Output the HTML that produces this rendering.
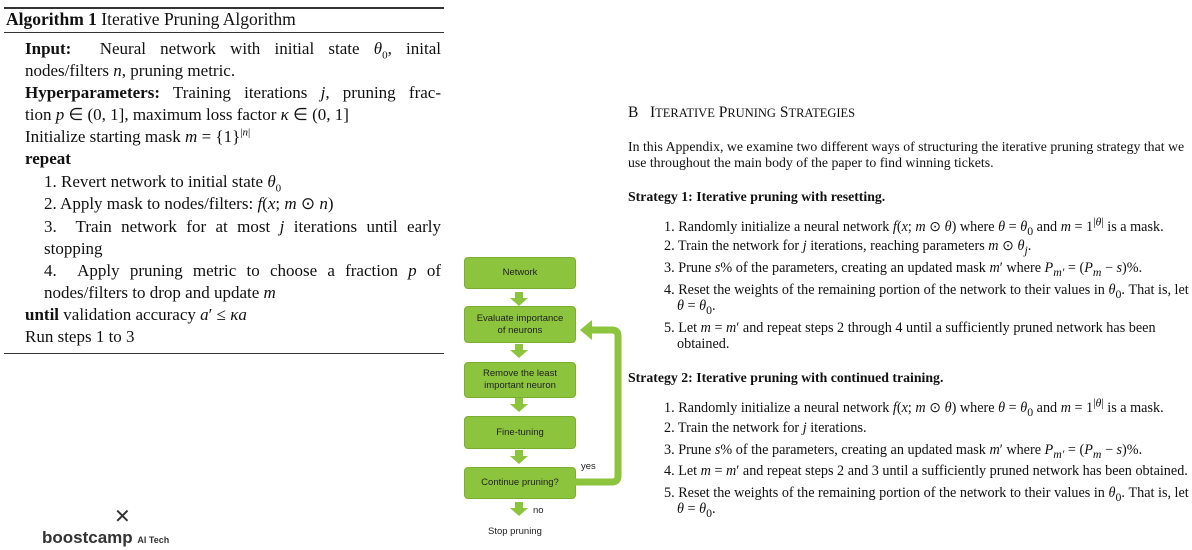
<!DOCTYPE html>
<html><head><meta charset="utf-8"><style>
body{margin:0;width:1192px;height:541px;background:#fff;position:relative;overflow:hidden;font-family:"Liberation Serif",serif;color:#111}
.a{position:absolute;white-space:nowrap}
.l{font-size:17px;line-height:22px}
.r{font-size:13.8px;line-height:16px}
.q{font-size:14.2px;line-height:16px}
sub,sup{line-height:0}
.box{position:absolute;left:464px;width:110px;background:#8cc43e;border:1px solid #7aae33;border-radius:4px;font-family:"Liberation Sans",sans-serif;font-size:9.5px;color:#222;display:flex;align-items:center;justify-content:center;text-align:center;line-height:12px}
.fl{font-family:"Liberation Sans",sans-serif;font-size:9.5px;color:#222}
i{font-style:italic}
</style></head><body>
<div class="a" style="left:4px;top:7px;width:440px;border-top:2px solid #333"></div>
<div class="a l" style="left:6px;top:8px;font-size:17.5px"><b>Algorithm 1</b> Iterative Pruning Algorithm</div>
<div class="a" style="left:4px;top:32px;width:440px;border-top:1px solid #333"></div>
<div class="a l" style="left:25px;top:38px;width:416px;text-align:justify;text-align-last:justify"><b>Input:</b> &nbsp;Neural network with initial state <i>θ</i><sub style="font-size:11px">0</sub>, inital</div>
<div class="a l" style="left:25px;top:60px">nodes/filters <i>n</i>, pruning metric.</div>
<div class="a l" style="left:25px;top:82px;width:416px;text-align:justify;text-align-last:justify"><b>Hyperparameters:</b> Training iterations <i>j</i>, pruning frac-</div>
<div class="a l" style="left:25px;top:104px">tion <i>p</i> ∈ (0, 1], maximum loss factor <i>κ</i> ∈ (0, 1]</div>
<div class="a l" style="left:25px;top:126px">Initialize starting mask <i>m</i> = {1}<sup style="font-size:11px">|<i>n</i>|</sup></div>
<div class="a l" style="left:25px;top:148px"><b>repeat</b></div>
<div class="a l" style="left:44px;top:171px">1. Revert network to initial state <i>θ</i><sub style="font-size:11px">0</sub></div>
<div class="a l" style="left:44px;top:193px">2. Apply mask to nodes/filters: <i>f</i>(<i>x</i>; <i>m</i> ⊙ <i>n</i>)</div>
<div class="a l" style="left:44px;top:216px;width:397px;text-align:justify;text-align-last:justify">3. &nbsp;Train network for at most <i>j</i> iterations until early</div>
<div class="a l" style="left:44px;top:238px">stopping</div>
<div class="a l" style="left:44px;top:260px;width:397px;text-align:justify;text-align-last:justify">4. &nbsp;Apply pruning metric to choose a fraction <i>p</i> of</div>
<div class="a l" style="left:44px;top:282px">nodes/filters to drop and update <i>m</i></div>
<div class="a l" style="left:25px;top:304px"><b>until</b> validation accuracy <i>a</i>′ ≤ <i>κa</i></div>
<div class="a l" style="left:25px;top:326px">Run steps 1 to 3</div>
<div class="a" style="left:4px;top:353px;width:440px;border-top:1px solid #333"></div>

<div class="a" style="left:114px;top:507px;font-family:'Liberation Sans',sans-serif;font-size:20px;color:#333;line-height:20px">✕</div>
<div class="a" style="left:42px;top:528px;font-family:'Liberation Sans',sans-serif;font-size:17px;font-weight:bold;color:#333;line-height:20px">boostcamp <span style="font-size:9px">AI Tech</span></div>

<div class="box" style="top:257px;height:30px">Network</div>
<div class="box" style="top:306px;height:35px">Evaluate importance<br>of neurons</div>
<div class="box" style="top:362px;height:34px">Remove the least<br>important neuron</div>
<div class="box" style="top:416px;height:31px">Fine-tuning</div>
<div class="box" style="top:467px;height:30px">Continue pruning?</div>
<svg class="a" style="left:450px;top:250px" width="180" height="280">
<g fill="#8cc43e">
<path d="M65 42h8v6h5l-9 8-9-8h5z"/>
<path d="M65 94h8v6h5l-9 8-9-8h5z"/>
<path d="M65 148h8v6h5l-9 8-9-8h5z"/>
<path d="M65 200h8v6h5l-9 8-9-8h5z"/>
<path d="M65 252h8v6h5l-9 8-9-8h5z"/>
</g>
<path d="M125 232 H162 Q168 232 168 226 V86 Q168 80 162 80 H140" fill="none" stroke="#8cc43e" stroke-width="7"/>
<path d="M130 80 L142 70 L142 90 Z" fill="#8cc43e"/>
</svg>
<div class="a fl" style="left:581px;top:461px">yes</div>
<div class="a fl" style="left:533px;top:505px">no</div>
<div class="a fl" style="left:488px;top:526px">Stop pruning</div>

<div class="a" style="left:628px;top:104px;font-size:15.5px;line-height:18px">B &nbsp;&nbsp;I<span style="font-size:12.5px">TERATIVE</span> P<span style="font-size:12.5px">RUNING</span> S<span style="font-size:12.5px">TRATEGIES</span></div>
<div class="a r" style="left:628px;top:139px">In this Appendix, we examine two different ways of structuring the iterative pruning strategy that we</div>
<div class="a r" style="left:628px;top:155px">use throughout the main body of the paper to find winning tickets.</div>
<div class="a r" style="left:628px;top:189px"><b>Strategy 1: Iterative pruning with resetting.</b></div>
<div class="a q" style="left:664px;top:219px">1. Randomly initialize a neural network <i>f</i>(<i>x</i>; <i>m</i> ⊙ <i>θ</i>) where <i>θ</i> = <i>θ</i><sub>0</sub> and <i>m</i> = 1<sup>|<i>θ</i>|</sup> is a mask.</div>
<div class="a q" style="left:664px;top:238px">2. Train the network for <i>j</i> iterations, reaching parameters <i>m</i> ⊙ <i>θ<sub>j</sub></i>.</div>
<div class="a q" style="left:664px;top:260px">3. Prune <i>s</i>% of the parameters, creating an updated mask <i>m</i>′ where <i>P<sub>m′</sub></i> = (<i>P<sub>m</sub></i> − <i>s</i>)%.</div>
<div class="a q" style="left:664px;top:282px">4. Reset the weights of the remaining portion of the network to their values in <i>θ</i><sub>0</sub>. That is, let</div>
<div class="a q" style="left:677px;top:298px"><i>θ</i> = <i>θ</i><sub>0</sub>.</div>
<div class="a q" style="left:664px;top:320px">5. Let <i>m</i> = <i>m</i>′ and repeat steps 2 through 4 until a sufficiently pruned network has been</div>
<div class="a q" style="left:677px;top:336px">obtained.</div>
<div class="a r" style="left:628px;top:370px"><b>Strategy 2: Iterative pruning with continued training.</b></div>
<div class="a q" style="left:664px;top:400px">1. Randomly initialize a neural network <i>f</i>(<i>x</i>; <i>m</i> ⊙ <i>θ</i>) where <i>θ</i> = <i>θ</i><sub>0</sub> and <i>m</i> = 1<sup>|<i>θ</i>|</sup> is a mask.</div>
<div class="a q" style="left:664px;top:420px">2. Train the network for <i>j</i> iterations.</div>
<div class="a q" style="left:664px;top:442px">3. Prune <i>s</i>% of the parameters, creating an updated mask <i>m</i>′ where <i>P<sub>m′</sub></i> = (<i>P<sub>m</sub></i> − <i>s</i>)%.</div>
<div class="a q" style="left:664px;top:463px">4. Let <i>m</i> = <i>m</i>′ and repeat steps 2 and 3 until a sufficiently pruned network has been obtained.</div>
<div class="a q" style="left:664px;top:485px">5. Reset the weights of the remaining portion of the network to their values in <i>θ</i><sub>0</sub>. That is, let</div>
<div class="a q" style="left:677px;top:501px"><i>θ</i> = <i>θ</i><sub>0</sub>.</div>
</body></html>
